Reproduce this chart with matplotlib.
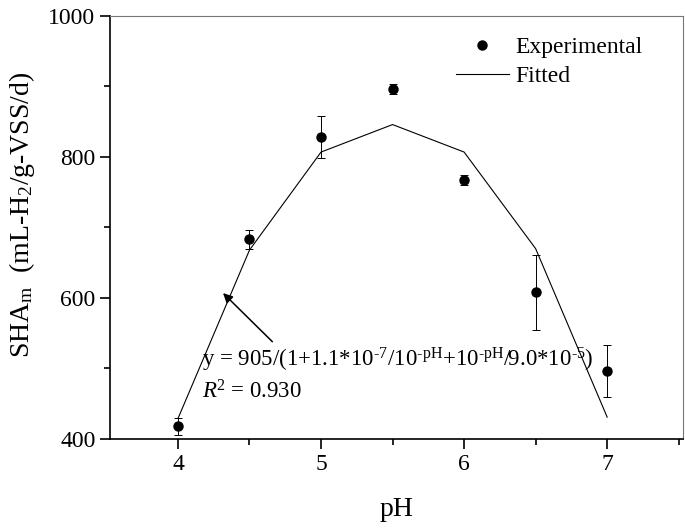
import numpy as np
import matplotlib
matplotlib.use("Agg")
import matplotlib.pyplot as plt
from matplotlib.ticker import MultipleLocator
from matplotlib.lines import Line2D

plt.rcParams["font.family"] = ["Liberation Serif", "DejaVu Serif"]
plt.rcParams["mathtext.fontset"] = "custom"
plt.rcParams["mathtext.rm"] = "Liberation Serif"
plt.rcParams["mathtext.it"] = "Liberation Serif:italic"

# experimental data
ph = [4.0, 4.5, 5.0, 5.5, 6.0, 6.5, 7.0]
sha_exp = [418, 683, 828, 896, 767, 608, 496]
sha_err = [12, 14, 30, 7, 7, 53, 37]

# fitted curve values at the same pH points
sha_fit = [429, 668, 807, 846, 807, 670, 431]

x_ticks = [4, 5, 6, 7]
y_ticks = [400, 600, 800, 1000]

fig = plt.figure(figsize=(6.85, 5.3), dpi=100)
ax = fig.add_axes([110 / 685, 1 - 439 / 530, (683 - 110) / 685, (439 - 16) / 530])

ax.plot(ph, sha_fit, color="black", lw=0.8)
ax.errorbar(ph, sha_exp, yerr=sha_err, fmt="o", color="black", ms=6.5,
            ecolor="black", elinewidth=0.7, capsize=3, capthick=0.7)

ax.set_xlim(3.525, 7.53)
ax.set_ylim(400, 1000)
ax.set_xticks(x_ticks)
ax.set_yticks(y_ticks)
ax.xaxis.set_minor_locator(MultipleLocator(0.5))
ax.yaxis.set_minor_locator(MultipleLocator(100))
ax.tick_params(which="major", direction="out", length=7.5, width=1.2,
               labelsize=17, pad=3, top=False, right=False)
ax.tick_params(which="minor", direction="out", length=4, width=1.2,
               top=False, right=False)
for s in ["left", "bottom"]:
    ax.spines[s].set_linewidth(1.2)
for s in ["top", "right"]:
    ax.spines[s].set_linewidth(0.8)
    ax.spines[s].set_color("#777777")

ax.set_xlabel("pH", fontsize=20, labelpad=16)
ax.set_ylabel(r"SHA$_\mathrm{m}$  (mL-H$_2$/g-VSS/d)", fontsize=20)
ax.yaxis.set_label_coords(-0.128, 0.53)

legend_handles = [
    Line2D([], [], ls="none", marker="o", color="black", ms=6.5),
    Line2D([], [], color="black", lw=0.8),
]
ax.legend(legend_handles, ["Experimental", "Fitted"],
          loc="upper right", bbox_to_anchor=(0.955, 0.985), frameon=False,
          fontsize=17, handlelength=2.25, handletextpad=0.3, labelspacing=0.32,
          borderaxespad=0.2)

ax.annotate("", xy=(4.315, 607), xytext=(4.66, 538),
            arrowprops=dict(arrowstyle="-|>", color="black", lw=1.1,
                            mutation_scale=14, shrinkA=0, shrinkB=0))
eq = (r"y = 905/(1+1.1*10$^{\text{-7}}$/10$^{\text{-pH}}$"
      r"+10$^{\text{-pH}}$/9.0*10$^{\text{-5}}$)")
ax.text(4.17, 512, eq, fontsize=16.5, va="center", ha="left")
ax.text(4.17, 467, r"$R$$^{2}$ = 0.930", fontsize=16.5, va="center", ha="left")

fig.savefig("out.png", dpi=100)
